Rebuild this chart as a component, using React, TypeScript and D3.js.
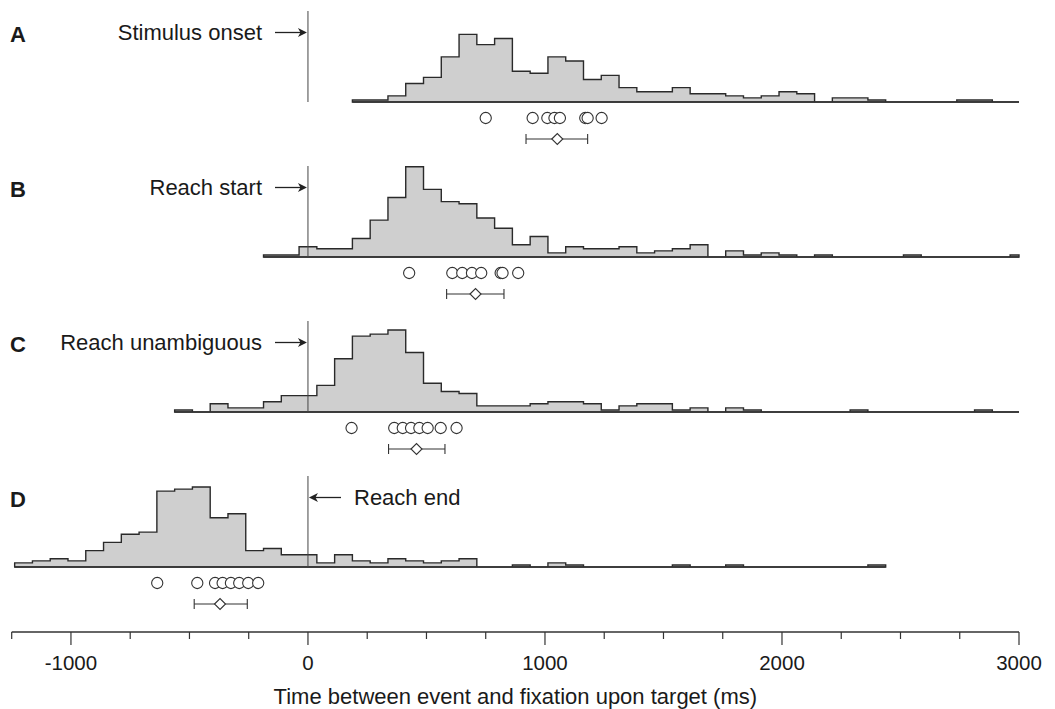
import React from "react";
import * as d3 from "d3";

const BIN = 75;
const X_MIN = -1250;
const X_MAX = 3000;
const tickValues = d3.range(-1250, 3001, 250);
const tickLabels = [-1000, 0, 1000, 2000, 3000];

const panelLetters = ["A", "B", "C", "D"];
const eventLabels = ["Stimulus onset", "Reach start", "Reach unambiguous", "Reach end"];
const binStarts = [225, -150, -525, -1200];

const countsA = [1,1,3,9,12,22,33,28,31,15,14,22,20,11,13,7,5,5,7,4,4,3,2,3,5,4,0,2,2,1,0,0,0,0,1,1,0,0];
const countsB = [1,1,5,4,4,9,18,29,44,33,27,26,19,14,6,10,2,5,4,4,5,2,3,4,6,0,3,1,2,1,0,1,0,0,0,0,1,0,0,0,0,0,1];
const countsC = [1,0,4,2,2,5,8,8,13,26,37,38,40,29,14,10,9,3,3,3,4,5,5,4,1,3,4,4,1,2,0,2,1,0,0,0,0,0,1,0,0,0,0,0,0,1,0,0];
const countsD = [2,3,4,3,8,12,16,17,37,38,39,24,26,8,9,6,6,2,6,3,2,4,3,2,3,4,0,0,1,0,2,1,0,0,0,0,0,1,0,0,1,0,0,0,0,0,0,0,1];

const subjA = [750, 948, 1010, 1040, 1063, 1170, 1180, 1239];
const subjB = [427, 609, 651, 692, 731, 813, 821, 887];
const subjC = [184, 364, 400, 435, 470, 505, 560, 627];
const subjD = [-636, -467, -392, -360, -325, -290, -252, -210];

const meanVals = [1052, 707, 458, -371];
const ciLow = [920, 585, 340, -480];
const ciHigh = [1180, 827, 578, -256];

const allCounts = [countsA, countsB, countsC, countsD];
const allSubj = [subjA, subjB, subjC, subjD];

const W = 1055;
const H = 709;
const FONT = "'Liberation Sans', Arial, Helvetica, sans-serif";

export default function App() {
  const x = d3.scaleLinear().domain([X_MIN, X_MAX]).range([11.7, 1019]);
  const hScale = d3.scaleLinear().domain([0, 44]).range([0, 90.2]);
  const baselines = [102, 257, 412, 567];
  const axisY = 632;

  return (
    <svg width={W} height={H} style={{ position: "absolute", left: 0, top: 0, background: "#fff" }}>
      {allCounts.map((counts, pi) => {
        const by = baselines[pi];
        const start = binStarts[pi];
        const bins = counts.map((c, i) => {
          const center = start + i * BIN;
          return {
            x0: Math.max(center - BIN / 2, X_MIN),
            x1: Math.min(center + BIN / 2, X_MAX),
            c,
          };
        });
        const p = d3.path();
        p.moveTo(x(bins[0].x0), by);
        bins.forEach((b) => {
          p.lineTo(x(b.x0), by - hScale(b.c));
          p.lineTo(x(b.x1), by - hScale(b.c));
        });
        p.lineTo(x(bins[bins.length - 1].x1), by);
        p.closePath();
        const zeroX = x(0);
        const arrowY = by - 69.5;
        const isLeft = pi === 3;
        const circY = by + 16;
        const barY = by + 37;
        const mx = x(meanVals[pi]);
        return (
          <g key={pi}>
            <path d={p.toString()} fill="#cfcfcf" stroke="#2a2a2a" strokeWidth={1.4} strokeLinejoin="miter" />
            <line x1={x(bins[0].x0)} x2={x(bins[bins.length - 1].x1)} y1={by} y2={by} stroke="#333" strokeWidth={1.6} />
            <line x1={zeroX} x2={zeroX} y1={by - 91} y2={by} stroke="#444" strokeWidth={1} />
            <text x={10} y={by - 60} fontFamily={FONT} fontWeight="bold" fontSize={22} fill="#1a1a1a">
              {panelLetters[pi]}
            </text>
            {!isLeft ? (
              <g>
                <text x={262} y={arrowY + 7.8} textAnchor="end" fontFamily={FONT} fontSize={22} fill="#1a1a1a">
                  {eventLabels[pi]}
                </text>
                <line x1={275} x2={304} y1={arrowY} y2={arrowY} stroke="#222" strokeWidth={1.3} />
                <path d={`M${zeroX - 1},${arrowY} L${zeroX - 10},${arrowY - 4.5} L${zeroX - 7.5},${arrowY} L${zeroX - 10},${arrowY + 4.5} Z`} fill="#222" />
              </g>
            ) : (
              <g>
                <text x={354} y={arrowY + 7.8} fontFamily={FONT} fontSize={22} fill="#1a1a1a">
                  {eventLabels[pi]}
                </text>
                <line x1={zeroX + 4} x2={341} y1={arrowY} y2={arrowY} stroke="#222" strokeWidth={1.3} />
                <path d={`M${zeroX + 1},${arrowY} L${zeroX + 10},${arrowY - 4.5} L${zeroX + 7.5},${arrowY} L${zeroX + 10},${arrowY + 4.5} Z`} fill="#222" />
              </g>
            )}
            {allSubj[pi].map((v, i) => (
              <circle key={i} cx={x(v)} cy={circY} r={5.6} fill="#fff" stroke="#333" strokeWidth={1.1} />
            ))}
            <line x1={x(ciLow[pi])} x2={x(ciHigh[pi])} y1={barY} y2={barY} stroke="#333" strokeWidth={1.1} />
            <line x1={x(ciLow[pi])} x2={x(ciLow[pi])} y1={barY - 5} y2={barY + 5} stroke="#333" strokeWidth={1.1} />
            <line x1={x(ciHigh[pi])} x2={x(ciHigh[pi])} y1={barY - 5} y2={barY + 5} stroke="#333" strokeWidth={1.1} />
            <path d={`M${mx - 5.5},${barY} L${mx},${barY - 5.5} L${mx + 5.5},${barY} L${mx},${barY + 5.5} Z`} fill="#fff" stroke="#333" strokeWidth={1.1} />
          </g>
        );
      })}
      <g>
        <line x1={x(X_MIN)} x2={x(X_MAX)} y1={axisY} y2={axisY} stroke="#333" strokeWidth={1.6} />
        {tickValues.map((t) => {
          const major = t % 1000 === 0;
          return (
            <line key={t} x1={x(t)} x2={x(t)} y1={axisY} y2={axisY + (major ? 13 : 7)} stroke="#333" strokeWidth={1.2} />
          );
        })}
        {tickLabels.map((t) => (
          <text key={t} x={x(t)} y={axisY + 38} textAnchor="middle" fontFamily={FONT} fontSize={20.5} fill="#1a1a1a">
            {t}
          </text>
        ))}
        <text x={(x(X_MIN) + x(X_MAX)) / 2} y={704} textAnchor="middle" fontFamily={FONT} fontSize={22} fill="#1a1a1a">
          Time between event and fixation upon target (ms)
        </text>
      </g>
    </svg>
  );
}
